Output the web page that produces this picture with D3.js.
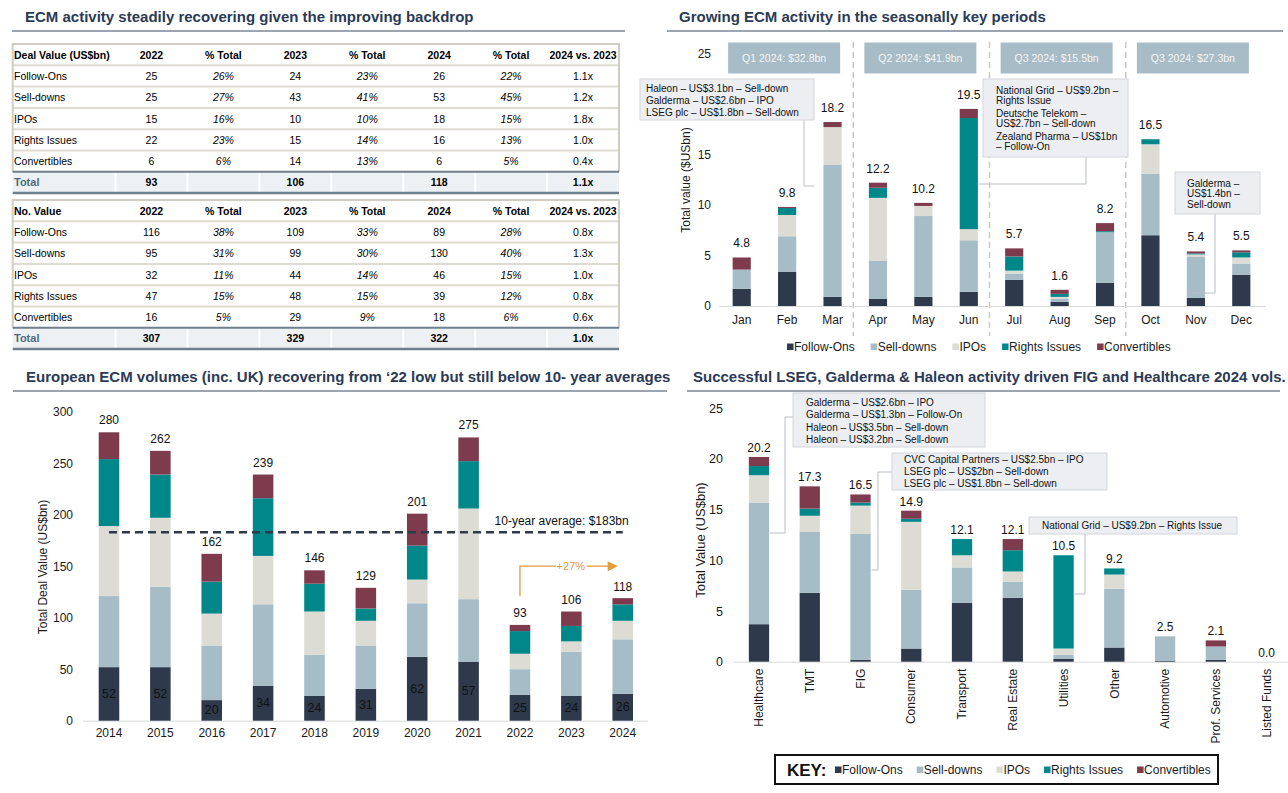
<!DOCTYPE html>
<html>
<head>
<meta charset="utf-8">
<script src="https://cdn.jsdelivr.net/npm/d3@7"></script>
<style>
  body { margin: 0; background: #fff; }
  svg { font-family: "Liberation Sans", Arial, sans-serif; }
</style>
</head>
<body>
<svg id="chart" width="1288" height="793"></svg>
<script>
// ---- data ----
var seriesNames = ["Follow-Ons", "Sell-downs", "IPOs", "Rights Issues", "Convertibles"];
var seriesColors = ["#2e3a4c", "#a6bcc6", "#dcdcd5", "#00878a", "#7e3b4e"];

var dealHeader = ["Deal Value (US$bn)", "2022", "% Total", "2023", "% Total", "2024", "% Total", "2024 vs. 2023"];
var dealRows = [
  ["Follow-Ons", "25", "26%", "24", "23%", "26", "22%", "1.1x"],
  ["Sell-downs", "25", "27%", "43", "41%", "53", "45%", "1.2x"],
  ["IPOs", "15", "16%", "10", "10%", "18", "15%", "1.8x"],
  ["Rights Issues", "22", "23%", "15", "14%", "16", "13%", "1.0x"],
  ["Convertibles", "6", "6%", "14", "13%", "6", "5%", "0.4x"],
  ["Total", "93", "", "106", "", "118", "", "1.1x"]
];
var countHeader = ["No. Value", "2022", "% Total", "2023", "% Total", "2024", "% Total", "2024 vs. 2023"];
var countRows = [
  ["Follow-Ons", "116", "38%", "109", "33%", "89", "28%", "0.8x"],
  ["Sell-downs", "95", "31%", "99", "30%", "130", "40%", "1.3x"],
  ["IPOs", "32", "11%", "44", "14%", "46", "15%", "1.0x"],
  ["Rights Issues", "47", "15%", "48", "15%", "39", "12%", "0.8x"],
  ["Convertibles", "16", "5%", "29", "9%", "18", "6%", "0.6x"],
  ["Total", "307", "", "329", "", "322", "", "1.0x"]
];

var months = ["Jan", "Feb", "Mar", "Apr", "May", "Jun", "Jul", "Aug", "Sep", "Oct", "Nov", "Dec"];
var monthFollowOns = [1.7, 3.4, 0.9, 0.7, 0.9, 1.4, 2.6, 0.4, 2.3, 7.0, 0.8, 3.1];
var monthSellDowns = [1.9, 3.5, 13.1, 3.8, 8.0, 5.1, 0.6, 0.3, 5.0, 6.1, 4.1, 1.1];
var monthIPOs = [0.0, 2.1, 3.7, 6.2, 1.0, 1.1, 0.3, 0.2, 0.0, 2.9, 0.2, 0.6];
var monthRights = [0.0, 0.7, 0.0, 1.0, 0.0, 11.0, 1.4, 0.3, 0.1, 0.5, 0.1, 0.5];
var monthConverts = [1.2, 0.1, 0.5, 0.5, 0.3, 0.9, 0.8, 0.4, 0.8, 0.0, 0.2, 0.2];
var monthTotals = [4.8, 9.8, 18.2, 12.2, 10.2, 19.5, 5.7, 1.6, 8.2, 16.5, 5.4, 5.5];
var quarterLabels = ["Q1 2024: $32.8bn", "Q2 2024: $41.9bn", "Q3 2024: $15.5bn", "Q3 2024: $27.3bn"];

var years = ["2014", "2015", "2016", "2017", "2018", "2019", "2020", "2021", "2022", "2023", "2024"];
var yearFollowOns = [52, 52, 20, 34, 24, 31, 62, 57, 25, 24, 26];
var yearSellDowns = [69, 78, 53, 79, 40, 42, 52, 61, 25, 43, 53];
var yearIPOs = [68, 67, 31, 47, 42, 24, 23, 88, 15, 10, 18];
var yearRights = [65, 42, 31, 56, 27, 12, 33, 46, 22, 15, 16];
var yearConverts = [26, 23, 27, 23, 13, 20, 31, 23, 6, 14, 6];
var yearTotals = [280, 262, 162, 239, 146, 129, 201, 275, 93, 106, 118];
var tenYearAverage = 183;

var sectors = ["Healthcare", "TMT", "FIG", "Consumer", "Transport", "Real Estate", "Utilities", "Other", "Automotive", "Prof. Services", "Listed Funds"];
var sectorFollowOns = [3.7, 6.8, 0.2, 1.3, 5.8, 6.3, 0.3, 1.4, 0.1, 0.2, 0];
var sectorSellDowns = [12.0, 6.0, 12.4, 5.8, 3.5, 1.6, 0.4, 5.8, 2.4, 1.3, 0];
var sectorIPOs = [2.7, 1.6, 2.8, 6.7, 1.2, 1.0, 0.6, 1.4, 0, 0, 0];
var sectorRights = [0.9, 0.7, 0.3, 0.3, 1.6, 2.1, 9.2, 0.6, 0, 0, 0];
var sectorConverts = [0.9, 2.2, 0.8, 0.8, 0, 1.1, 0, 0, 0, 0.6, 0];
var sectorTotals = [20.2, 17.3, 16.5, 14.9, 12.1, 12.1, 10.5, 9.2, 2.5, 2.1, 0.0];

var svg = d3.select("#chart");
var titleColor = "#2b3a55";

// ---- helpers ----
function panelTitle(text, x, y, x1, x2) {
  svg.append("text")
    .attr("x", x).attr("y", y)
    .attr("font-size", 15).attr("font-weight", "bold")
    .attr("fill", titleColor)
    .text(text);
  svg.append("line")
    .attr("x1", x1).attr("x2", x2)
    .attr("y1", y + 9).attr("y2", y + 9)
    .attr("stroke", "#7a8696").attr("stroke-width", 1.5);
}

function drawStack(g, cats, layers, x, y) {
  var rows = cats.map(function(c, i) {
    var o = { cat: c };
    seriesNames.forEach(function(s, k) { o[s] = layers[k][i]; });
    return o;
  });
  var stacked = d3.stack().keys(seriesNames)(rows);
  g.selectAll("g.layer")
    .data(stacked)
    .enter()
    .append("g")
    .attr("class", "layer")
    .attr("fill", function(d, i) { return seriesColors[i]; })
    .selectAll("rect")
    .data(function(d) { return d; })
    .enter()
    .append("rect")
    .attr("x", function(d) { return x(d.data.cat); })
    .attr("width", x.bandwidth())
    .attr("y", function(d) { return y(d[1]); })
    .attr("height", function(d) { return Math.max(0, y(d[0]) - y(d[1])); });
}

function totalLabels(g, cats, totals, x, y, off, fmt, size) {
  g.selectAll("text.total")
    .data(cats)
    .enter()
    .append("text")
    .attr("class", "total")
    .attr("x", function(d) { return x(d) + x.bandwidth() / 2; })
    .attr("y", function(d, i) { return y(totals[i]) - off; })
    .attr("text-anchor", "middle")
    .attr("dominant-baseline", "central")
    .attr("font-size", size)
    .attr("fill", "#111")
    .text(function(d, i) { return fmt(totals[i]); });
}

function styleAxis(axisG, size) {
  axisG.select(".domain").remove();
  axisG.selectAll("text").attr("font-size", size).attr("fill", "#1a1a1a")
    .attr("font-family", "Liberation Sans, Arial, sans-serif");
}

function callout(lines, bx, by, bw, bh, tx, lineYs, path) {
  var g = svg.append("g");
  g.append("path").attr("d", path).attr("fill", "none")
    .attr("stroke", "#b9bec6").attr("stroke-width", 1);
  g.append("rect").attr("x", bx).attr("y", by).attr("width", bw).attr("height", bh)
    .attr("fill", "#eceef1").attr("stroke", "#d3d6db").attr("stroke-width", 1);
  lines.forEach(function(t, i) {
    g.append("text").attr("x", tx).attr("y", lineYs[i])
      .attr("dominant-baseline", "central")
      .attr("font-size", 10).attr("fill", "#111").text(t);
  });
}

function legendRow(g, startX, y, size, gap) {
  var cx = startX;
  seriesNames.forEach(function(s, i) {
    g.append("rect").attr("x", cx).attr("y", y - 3.5).attr("width", 6.5).attr("height", 6.5)
      .attr("fill", seriesColors[i]);
    var t = g.append("text").attr("x", cx + 7).attr("y", y)
      .attr("dominant-baseline", "central")
      .attr("font-size", size).attr("fill", "#1a1a1a").text(s);
    cx += 7 + t.node().getComputedTextLength() + gap;
  });
}

// ---- top-left: tables ----
panelTitle("ECM activity steadily recovering given the improving backdrop", 25, 22, 12, 625);

var colScale = d3.scaleBand().domain(d3.range(1, 8)).range([115.5, 619]);
var rowH = 21.3;

function drawTable(top, header, rows) {
  var g = svg.append("g");
  var left = 12.7, right = 619;
  var totalTop = top + rowH * 6;
  // row rules
  for (var r = 1; r < 6; r++) {
    g.append("line").attr("x1", left).attr("x2", right)
      .attr("y1", top + rowH * r).attr("y2", top + rowH * r)
      .attr("stroke", "#dddbd2").attr("stroke-width", 2);
  }
  // outer frame
  g.append("path")
    .attr("d", "M" + left + "," + totalTop + "V" + top + "H" + right + "V" + totalTop)
    .attr("fill", "none").attr("stroke", "#cfcdc1").attr("stroke-width", 2);
  // total row
  g.append("rect").attr("x", left).attr("y", totalTop).attr("width", right - left).attr("height", rowH)
    .attr("fill", "#edf1f3");
  colScale.domain().forEach(function(c) {
    g.append("line").attr("x1", colScale(c)).attr("x2", colScale(c))
      .attr("y1", totalTop).attr("y2", totalTop + rowH)
      .attr("stroke", "#fff").attr("stroke-width", 2);
  });
  g.append("line").attr("x1", left).attr("x2", right).attr("y1", totalTop).attr("y2", totalTop)
    .attr("stroke", "#6f7f8c").attr("stroke-width", 2);
  g.append("line").attr("x1", left).attr("x2", right).attr("y1", totalTop + rowH).attr("y2", totalTop + rowH)
    .attr("stroke", "#6f7f8c").attr("stroke-width", 2.5);

  var all = [header].concat(rows);
  all.forEach(function(row, r) {
    var cy = top + rowH * r + rowH / 2;
    var isHead = r === 0, isTotal = r === all.length - 1;
    row.forEach(function(cell, c) {
      var t = g.append("text")
        .attr("y", cy)
        .attr("dominant-baseline", "central")
        .attr("font-size", 10.5)
        .attr("fill", "#000")
        .text(cell);
      if (c === 0) {
        t.attr("x", 14);
        if (isTotal) t.attr("fill", "#4d6b7e").attr("font-size", 11);
      } else {
        t.attr("x", colScale(c) + colScale.bandwidth() / 2).attr("text-anchor", "middle");
        if (!isHead && (c === 2 || c === 4 || c === 6)) t.attr("font-style", "italic");
      }
      if (isHead || isTotal) t.attr("font-weight", "bold");
    });
  });
}
drawTable(44, dealHeader, dealRows);
drawTable(200, countHeader, countRows);

// ---- top-right: monthly ----
panelTitle("Growing ECM activity in the seasonally key periods", 679, 22, 667, 1283);

var xM = d3.scaleBand().domain(months).range([719, 1264]).paddingInner(0.6).paddingOuter(0.3);
var yM = d3.scaleLinear().domain([0, 25]).range([306, 53.3]);
var gM = svg.append("g");

// quarter separators and boxes
[3, 6, 9].forEach(function(i) {
  var sx = (xM(months[i - 1]) + xM(months[i]) + xM.bandwidth()) / 2 - 2;
  gM.append("line").attr("x1", sx).attr("x2", sx).attr("y1", 42).attr("y2", 336)
    .attr("stroke", "#cbc7bb").attr("stroke-width", 1.5).attr("stroke-dasharray", "6,4");
});
quarterLabels.forEach(function(q, i) {
  var mid = xM(months[i * 3 + 1]) + xM.bandwidth() / 2 - 3;
  gM.append("rect").attr("x", mid - 56).attr("y", 42.5).attr("width", 112).attr("height", 31)
    .attr("fill", "#a7bcc6");
  gM.append("text").attr("x", mid).attr("y", 58).attr("text-anchor", "middle")
    .attr("dominant-baseline", "central").attr("font-size", 10.5).attr("fill", "#f4f6f7").text(q);
});

// the 20 tick sits behind the first callout in the original, so it is left out
var axMY = gM.append("g").attr("transform", "translate(716,0)")
  .call(d3.axisLeft(yM).tickValues([0, 5, 10, 15, 25]).tickSize(0).tickPadding(5));
styleAxis(axMY, 12);
var axMX = gM.append("g").attr("transform", "translate(0,306)")
  .call(d3.axisBottom(xM).tickSize(0).tickPadding(9));
styleAxis(axMX, 12);
gM.append("line").attr("x1", 719).attr("x2", 1266).attr("y1", 306.5).attr("y2", 306.5)
  .attr("stroke", "#d9d9d9").attr("stroke-width", 1);

drawStack(gM, months, [monthFollowOns, monthSellDowns, monthIPOs, monthRights, monthConverts], xM, yM);
totalLabels(gM, months, monthTotals, xM, yM, 14, d3.format(".1f"), 12);

gM.append("text").attr("transform", "translate(686,180) rotate(-90)")
  .attr("text-anchor", "middle").attr("dominant-baseline", "central")
  .attr("font-size", 12).attr("fill", "#1a1a1a").text("Total value ($USbn)");

legendRow(gM, 787, 347, 12, 16);

var mEdge = function(m, side) { return side ? xM(m) + xM.bandwidth() : xM(m); };
callout(["Haleon – US$3.1bn – Sell-down", "Galderma – US$2.6bn – IPO", "LSEG plc – US$1.8bn – Sell-down"],
  640, 79, 174, 41, 646, [88, 100, 112],
  "M804,120V186H" + (mEdge("Mar", 0) - 9));
callout(["National Grid – US$9.2bn –", "Rights Issue", "Deutsche Telekom –", "US$2.7bn – Sell-down", "Zealand Pharma – US$1bn", "– Follow-On"],
  983, 79, 145, 78, 996, [90, 100, 113, 123, 136, 146],
  "M1086,157V184H" + (mEdge("Jun", 1) + 1));
callout(["Galderma –", "US$1.4bn –", "Sell-down"],
  1175, 172, 85, 42, 1187, [183, 193.5, 204],
  "M1215,214V293H" + (mEdge("Nov", 0) + 4));

// ---- bottom-left: annual ----
panelTitle("European ECM volumes (inc. UK) recovering from \u201822 low but still below 10- year averages", 26, 382, 13, 667);

var xY = d3.scaleBand().domain(years).range([83.3, 648.4]).paddingInner(0.6).paddingOuter(0.3);
var yY = d3.scaleLinear().domain([0, 300]).range([720.7, 411.7]);
var gY = svg.append("g");

var axYY = gY.append("g").attr("transform", "translate(78,0)")
  .call(d3.axisLeft(yY).tickValues(d3.range(0, 301, 50)).tickSize(0).tickPadding(5));
styleAxis(axYY, 12);
var axYX = gY.append("g").attr("transform", "translate(0,720.7)")
  .call(d3.axisBottom(xY).tickSize(0).tickPadding(8));
styleAxis(axYX, 12);
gY.append("line").attr("x1", 83).attr("x2", 648).attr("y1", 721.2).attr("y2", 721.2)
  .attr("stroke", "#d9d9d9").attr("stroke-width", 1);

drawStack(gY, years, [yearFollowOns, yearSellDowns, yearIPOs, yearRights, yearConverts], xY, yY);
totalLabels(gY, years, yearTotals, xY, yY, 12, d3.format("d"), 12);

// follow-on values inside the bottom segment
gY.selectAll("text.fo").data(years).enter().append("text")
  .attr("x", function(d) { return xY(d) + xY.bandwidth() / 2; })
  .attr("y", function(d, i) { return yY(yearFollowOns[i] / 2); })
  .attr("text-anchor", "middle").attr("dominant-baseline", "central")
  .attr("font-size", 12.5).attr("fill", "#111")
  .text(function(d, i) { return yearFollowOns[i]; });

var cx0 = xY(years[0]) + xY.bandwidth() / 2, cx1 = xY(years[10]) + xY.bandwidth() / 2;
gY.append("line").attr("x1", cx0).attr("x2", cx1)
  .attr("y1", yY(tenYearAverage)).attr("y2", yY(tenYearAverage))
  .attr("stroke", "#2e3a4c").attr("stroke-width", 2.5).attr("stroke-dasharray", "8,5");
gY.append("text").attr("x", cx1 + 6).attr("y", yY(tenYearAverage) - 11)
  .attr("text-anchor", "end").attr("dominant-baseline", "central")
  .attr("font-size", 12).attr("fill", "#111").text("10-year average: $" + tenYearAverage + "bn");

// +27% arrow from 2022 to 2024
var orange = "#e39b3b";
var ax0 = xY("2022") + xY.bandwidth() / 2;
var ax1 = xY("2024") + xY.bandwidth() / 2 - 5;
var ayTop = yY(yearTotals[10]) - 33, ayBot = yY(yearTotals[8]) - 29;
var labX = (ax0 + ax1) / 2 + 2;
gY.append("path").attr("d", "M" + ax0 + "," + ayBot + "V" + ayTop + "H" + (labX - 15))
  .attr("fill", "none").attr("stroke", orange).attr("stroke-width", 1.3);
gY.append("path").attr("d", "M" + (labX + 16) + "," + ayTop + "H" + (ax1 - 9))
  .attr("fill", "none").attr("stroke", orange).attr("stroke-width", 1.3);
gY.append("path").attr("d", "M" + (ax1 - 10) + "," + (ayTop - 5) + "L" + ax1 + "," + ayTop + "L" + (ax1 - 10) + "," + (ayTop + 5) + "Z")
  .attr("fill", orange);
gY.append("text").attr("x", labX).attr("y", ayTop).attr("text-anchor", "middle")
  .attr("dominant-baseline", "central").attr("font-size", 11).attr("fill", orange).text("+27%");

gY.append("text").attr("transform", "translate(43,567) rotate(-90)")
  .attr("text-anchor", "middle").attr("dominant-baseline", "central")
  .attr("font-size", 12).attr("fill", "#1a1a1a").text("Total Deal Value (US$bn)");

// ---- bottom-right: sectors ----
panelTitle("Successful LSEG, Galderma & Haleon activity driven FIG and Healthcare 2024 vols.", 693, 382, 687, 1280);

var xS = d3.scaleBand().domain(sectors).range([733.6, 1292]).paddingInner(0.6).paddingOuter(0.3);
var yS = d3.scaleLinear().domain([0, 25]).range([661.7, 408.3]);
var gS = svg.append("g");

var axSY = gS.append("g").attr("transform", "translate(728,0)")
  .call(d3.axisLeft(yS).tickValues([0, 5, 10, 15, 20, 25]).tickSize(0).tickPadding(5));
styleAxis(axSY, 12.5);
var axSX = gS.append("g").attr("transform", "translate(0,661.7)")
  .call(d3.axisBottom(xS).tickSize(0));
styleAxis(axSX, 12);
axSX.selectAll("text")
  .attr("transform", "rotate(-90)")
  .attr("text-anchor", "end")
  .attr("x", -7).attr("y", 0).attr("dy", "0.35em");
gS.append("line").attr("x1", 734).attr("x2", 1288).attr("y1", 662.2).attr("y2", 662.2)
  .attr("stroke", "#d9d9d9").attr("stroke-width", 1);

drawStack(gS, sectors, [sectorFollowOns, sectorSellDowns, sectorIPOs, sectorRights, sectorConverts], xS, yS);
totalLabels(gS, sectors, sectorTotals, xS, yS, 9, d3.format(".1f"), 12);

gS.append("text").attr("transform", "translate(700,540) rotate(-90)")
  .attr("text-anchor", "middle").attr("dominant-baseline", "central")
  .attr("font-size", 13).attr("fill", "#1a1a1a").text("Total Value (US$bn)");

var sEdge = function(s) { return xS(s) + xS.bandwidth(); };
callout(["Galderma – US$2.6bn – IPO", "Galderma – US$1.3bn – Follow-On", "Haleon – US$3.5bn – Sell-down", "Haleon – US$3.2bn – Sell-down"],
  793, 393, 192, 54, 806, [402, 414.3, 427, 439],
  "M793,417H785V533H" + (sEdge("Healthcare") + 1));
callout(["CVC Capital Partners – US$2.5bn – IPO", "LSEG plc – US$2bn – Sell-down", "LSEG plc – US$1.8bn – Sell-down"],
  892, 453, 215, 37, 904, [459.5, 471.5, 483.5],
  "M892,472H878V570H" + (sEdge("FIG") + 1));
callout(["National Grid – US$9.2bn – Rights Issue"],
  1029, 517, 208, 17, 1042, [525.5],
  "M1085,534V594H" + (sEdge("Utilities") + 1));

// key box
var gK = svg.append("g");
gK.append("rect").attr("x", 775).attr("y", 755).attr("width", 443).attr("height", 29)
  .attr("fill", "#fff").attr("stroke", "#111").attr("stroke-width", 2);
gK.append("text").attr("x", 787).attr("y", 770).attr("dominant-baseline", "central")
  .attr("font-size", 17).attr("font-weight", "bold").attr("fill", "#111").text("KEY:");
legendRow(gK, 835, 770, 12, 14);
</script>
</body>
</html>
